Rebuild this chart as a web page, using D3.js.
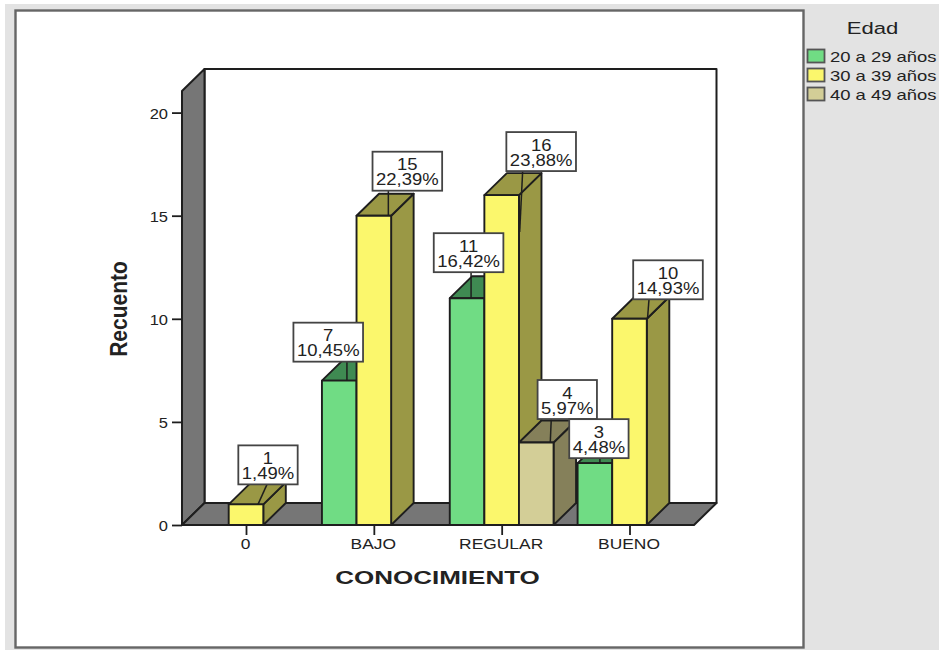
<!DOCTYPE html>
<html>
<head>
<meta charset="utf-8">
<script src="https://cdn.jsdelivr.net/npm/d3@7"></script>
<style>
  html, body { margin: 0; padding: 0; background: #ffffff; }
  text { font-family: "Liberation Sans", Arial, sans-serif; fill: #222; }
</style>
</head>
<body>
<svg id="chart" width="939" height="650"></svg>
<script>
const categories = ["0", "BAJO", "REGULAR", "BUENO"];
const seriesNames = ["20 a 29 años", "30 a 39 años", "40 a 49 años"];
const counts20a29 = [null, 7, 11, 3];
const counts30a39 = [1, 15, 16, 10];
const counts40a49 = [null, null, 4, null];
const yTicks = [0, 5, 10, 15, 20];
const totalCases = 67;
const yAxisTitle = "Recuento";
const xAxisTitle = "CONOCIMIENTO";
const legendTitle = "Edad";

// Hand-placed callouts: box shift from bar centre, gap above bar top,
// leader x at the box, leader x at the bar, how far the leader runs below the bar top.
const calloutLayout = {
  "0|30 a 39 años": [22, 20, 21, 12, 0],
  "BAJO|20 a 29 años": [-11, 19, 7.7, 7.7, 0],
  "BAJO|30 a 39 años": [33.5, 25, 14.5, 14.5, 0],
  "REGULAR|20 a 29 años": [1.5, 26, 4, 4, 0],
  "REGULAR|30 a 39 años": [39.5, 24, 21, 18, 37],
  "REGULAR|40 a 49 años": [31, 23.5, 15, 14, 0],
  "BUENO|20 a 29 años": [4, 5, 5, 5, 0],
  "BUENO|30 a 39 años": [38.5, 19.5, 19.5, 18, 0]
};

const palette = {
  "20 a 29 años": { front: "#70dc84", top: "#3f8a52", side: "#3f8a52" },
  "30 a 39 años": { front: "#fbf76c", top: "#9a9845", side: "#9a9845" },
  "40 a 49 años": { front: "#d3ce97", top: "#85805a", side: "#85805a" }
};
const wallGrey = "#767676";
const inkDark = "#1e1e1e";

const svg = d3.select("#chart");
const depthX = 22.5, depthY = 22;

const y = d3.scaleLinear().domain([0, 20]).range([525, 112.6]);
const x = d3.scalePoint().domain(categories).range([246, 629.5]);
const barStep = 34.6;
const seriesBand = d3.scaleBand().domain(seriesNames).range([-1.5 * barStep, 1.5 * barStep]);

const plotLeft = 182, plotRight = 694, wallTop = 91;

// Panel and surrounding grey frame
svg.append("rect").attr("x", 5).attr("y", 4).attr("width", 934).attr("height", 646).attr("fill", "#e3e3e3");
svg.append("rect").attr("x", 15.5).attr("y", 10.5).attr("width", 788).attr("height", 637)
  .attr("fill", "#ffffff").attr("stroke", "#666666").attr("stroke-width", 2.4);

const pts = a => a.map(p => p.join(",")).join(" ");
const wallStyle = s => s.attr("stroke", inkDark).attr("stroke-width", 2).attr("stroke-linejoin", "round");

// Back wall, side wall and floor of the 3D box
svg.append("polygon").call(wallStyle).attr("fill", "#ffffff")
  .attr("points", pts([[plotLeft + depthX, wallTop - depthY], [plotRight + depthX, wallTop - depthY],
    [plotRight + depthX, y(0) - depthY], [plotLeft + depthX, y(0) - depthY]]));
svg.append("polygon").call(wallStyle).attr("fill", wallGrey)
  .attr("points", pts([[plotLeft, wallTop], [plotLeft + depthX, wallTop - depthY],
    [plotLeft + depthX, y(0) - depthY], [plotLeft, y(0)]]));
svg.append("polygon").call(wallStyle).attr("fill", wallGrey)
  .attr("points", pts([[plotLeft, y(0)], [plotLeft + depthX, y(0) - depthY],
    [plotRight + depthX, y(0) - depthY], [plotRight, y(0)]]));

// Flat list of bars, one per non-empty cell
const seriesValues = [counts20a29, counts30a39, counts40a49];
const bars = [];
categories.forEach((c, ci) => {
  seriesNames.forEach((s, si) => {
    const v = seriesValues[si][ci];
    if (v !== null) bars.push({ category: c, series: s, value: v });
  });
});
const barLeft = d => x(d.category) + seriesBand(d.series);
const barW = seriesBand.bandwidth();

const barGroups = svg.append("g").selectAll("g").data(bars).join("g")
  .attr("stroke", inkDark).attr("stroke-width", 1.9).attr("stroke-linejoin", "round");

barGroups.append("polygon").attr("fill", d => palette[d.series].side)
  .attr("points", d => {
    const r = barLeft(d) + barW, t = y(d.value), b = y(0);
    return pts([[r, t], [r + depthX, t - depthY], [r + depthX, b - depthY], [r, b]]);
  });
barGroups.append("polygon").attr("fill", d => palette[d.series].top)
  .attr("points", d => {
    const l = barLeft(d), r = l + barW, t = y(d.value);
    return pts([[l, t], [l + depthX, t - depthY], [r + depthX, t - depthY], [r, t]]);
  });
barGroups.append("rect").attr("fill", d => palette[d.series].front)
  .attr("x", barLeft).attr("y", d => y(d.value))
  .attr("width", barW).attr("height", d => y(0) - y(d.value));

// Axes
const stretchedAxisText = (sel, dx, dy, sx) => sel.selectAll("text")
  .attr("x", 0).attr("y", 0).attr("dy", null)
  .attr("transform", `translate(${dx},${dy}) scale(${sx},1)`)
  .attr("font-size", 15).attr("fill", "#222");

const yAxis = svg.append("g").attr("transform", `translate(${plotLeft},0)`)
  .call(d3.axisLeft(y).tickValues(yTicks).tickSize(10).tickFormat(d3.format("d")));
yAxis.attr("font-family", null).select(".domain").remove();
yAxis.selectAll("line").attr("stroke", inkDark).attr("stroke-width", 1.8);
stretchedAxisText(yAxis, -14, 5.5, 1.1);
yAxis.selectAll("text").attr("text-anchor", "end");

const xAxis = svg.append("g").attr("transform", `translate(0,${y(0)})`)
  .call(d3.axisBottom(x).tickSize(10));
xAxis.attr("font-family", null).select(".domain").remove();
xAxis.selectAll("line").attr("stroke", inkDark).attr("stroke-width", 1.8);
stretchedAxisText(xAxis, -1, 24, 1.16);
xAxis.selectAll("text").attr("text-anchor", "middle");

// Axis titles
svg.append("text").text(xAxisTitle)
  .attr("transform", "translate(437.5,584) scale(1.37,1)")
  .attr("text-anchor", "middle").attr("font-weight", "bold").attr("font-size", 19).attr("fill", "#111");
svg.append("text").text(yAxisTitle)
  .attr("transform", "translate(127,309) rotate(-90) scale(1,1.1)")
  .attr("text-anchor", "middle").attr("font-weight", "bold").attr("font-size", 21).attr("fill", "#111");

// Callouts: leader line, white box, count and share of all cases
const calloutStretch = 1.12;
const labelled = svg.append("g").selectAll("g").data(bars).join("g");
labelled.each(function (d) {
  const g = d3.select(this);
  const [shift, gap, leaderTop, leaderBar, leaderDrop] = calloutLayout[d.category + "|" + d.series];
  const share = (d.value / totalCases * 100).toFixed(2).replace(".", ",") + "%";
  const centre = barLeft(d) + barW / 2;
  const cx = centre + shift;
  const bottom = y(d.value) - gap;
  g.append("line").attr("x1", centre + leaderBar).attr("y1", y(d.value) + leaderDrop)
    .attr("x2", centre + leaderTop).attr("y2", bottom)
    .attr("stroke", inkDark).attr("stroke-width", 1.5);
  const box = g.append("rect").attr("fill", "#ffffff").attr("stroke", "#444").attr("stroke-width", 1.8);
  const label = g.append("text")
    .attr("transform", `translate(${cx},${bottom - 20.5}) scale(${calloutStretch},1)`)
    .attr("text-anchor", "middle").attr("font-size", 16.5);
  label.append("tspan").attr("x", 0).attr("y", 0).text(d.value);
  const pct = label.append("tspan").attr("x", 0).attr("y", 15).text(share);
  const w = pct.node().getComputedTextLength() * calloutStretch + 7;
  box.attr("x", cx - w / 2).attr("y", bottom - 39).attr("width", w).attr("height", 39);
});

// Legend
svg.append("text").text(legendTitle)
  .attr("transform", "translate(872.5,34) scale(1.3,1)")
  .attr("text-anchor", "middle").attr("font-size", 17);
const legendY = d3.scalePoint().domain(seriesNames).range([49.5, 87.5]);
const legend = svg.append("g").selectAll("g").data(seriesNames).join("g")
  .attr("transform", d => `translate(807.5,${legendY(d)})`);
legend.append("rect").attr("width", 17).attr("height", 13)
  .attr("fill", d => palette[d].front).attr("stroke", "#555").attr("stroke-width", 1.8);
legend.append("text").text(d => d)
  .attr("transform", "translate(22.5,12) scale(1.23,1)")
  .attr("font-size", 15);
</script>
</body>
</html>
